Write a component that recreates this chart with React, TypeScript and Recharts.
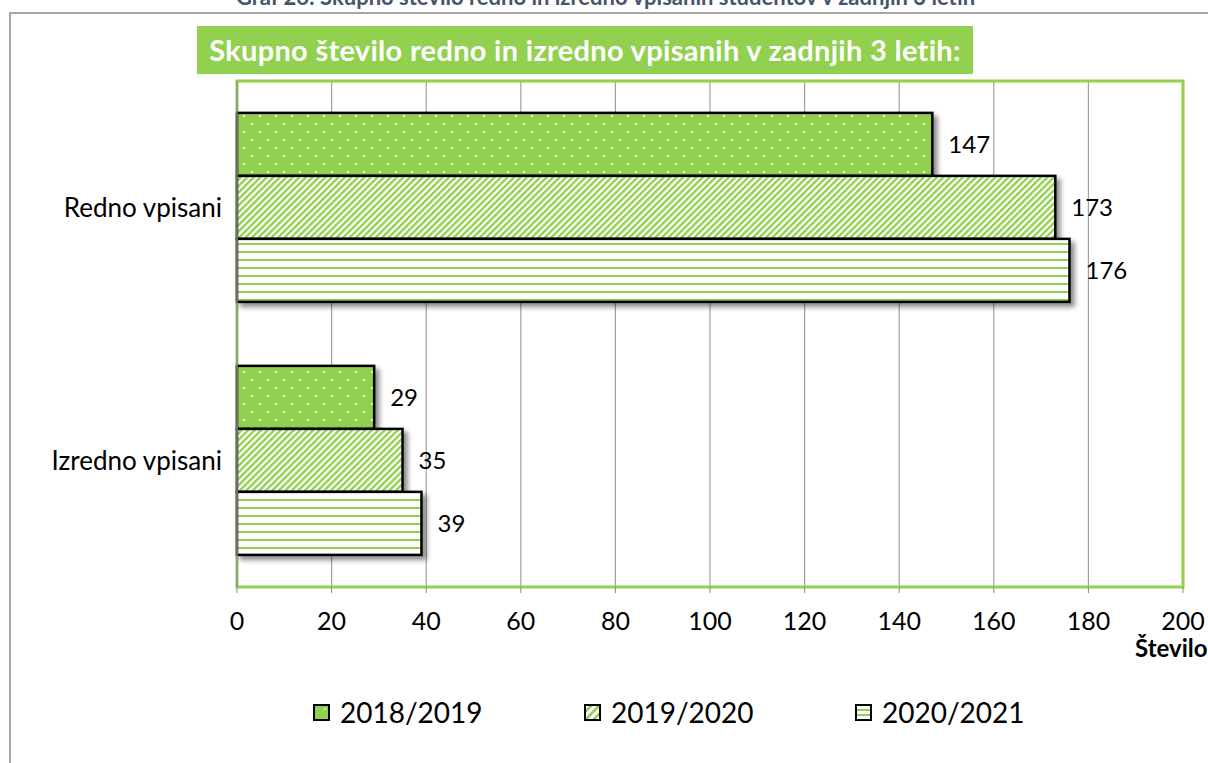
import React from "react";
import {
  Bar,
  BarChart,
  CartesianGrid,
  LabelList,
  ReferenceArea,
  XAxis,
  YAxis,
} from "recharts";

const categories = ["Redno vpisani", "Izredno vpisani"];
const seriesNames = ["2018/2019", "2019/2020", "2020/2021"];
const values2018 = [147, 29];
const values2019 = [173, 35];
const values2020 = [176, 39];
const xTicks = [0, 20, 40, 60, 80, 100, 120, 140, 160, 180, 200];

const pageTitle =
  "Graf 26: Skupno število redno in izredno vpisanih študentov v zadnjih 3 letih";
const chartTitle = "Skupno število redno in izredno vpisanih v zadnjih 3 letih:";
const axisTitle = "Število";

const data = categories.map((name, i) => ({
  name,
  s2018: values2018[i],
  s2019: values2019[i],
  s2020: values2020[i],
}));

const GREEN = "#92D050";
const FONT = "Lato, 'Open Sans', sans-serif";
const seriesKeys = ["s2018", "s2019", "s2020"];
const patternIds = ["pDots", "pDiag", "pHoriz"];

const BarShape = (props: any) => {
  const { x, y, width, height, fill } = props;
  if (!width || width <= 0) return null;
  return (
    <rect
      x={x}
      y={y}
      width={width}
      height={height}
      fill={fill}
      stroke="#000"
      strokeWidth={2.5}
      filter="url(#barShadow)"
    />
  );
};

function Swatch({ pattern }: { pattern: string }) {
  return (
    <svg width={17} height={17} style={{ display: "block" }}>
      <defs>
        <pattern id={"lg" + pattern} patternUnits="userSpaceOnUse" width={17} height={17}>
          {pattern === "pDots" && (
            <>
              <rect width={17} height={17} fill={GREEN} />
              <rect x={11} y={4} width={1.5} height={1.5} fill="#fff" />
            </>
          )}
          {pattern === "pDiag" && (
            <>
              <rect width={17} height={17} fill="#fff" />
              <path d="M-4 21 L21 -4 M-4 13 L13 -4 M4 21 L21 4 M-4 29 L29 -4" stroke={GREEN} strokeWidth={2.6} />
            </>
          )}
          {pattern === "pHoriz" && (
            <>
              <rect width={17} height={17} fill="#fff" />
              <rect x={0} y={5} width={17} height={2} fill={GREEN} />
              <rect x={0} y={10} width={17} height={2} fill={GREEN} />
            </>
          )}
        </pattern>
      </defs>
      <rect x={1} y={1} width={15} height={15} fill={`url(#lg${pattern})`} stroke="#000" strokeWidth={2} />
    </svg>
  );
}

export default function App() {
  return (
    <div
      style={{
        position: "absolute",
        left: 0,
        top: 0,
        width: 1208,
        height: 763,
        overflow: "hidden",
        background: "#fff",
        fontFamily: FONT,
      }}
    >
      <div
        style={{
          position: "absolute",
          left: 158,
          top: -17,
          width: 895,
          textAlign: "center",
          fontWeight: 700,
          fontSize: 22,
          color: "#44546A",
          whiteSpace: "nowrap",
        }}
      >
        {pageTitle}
      </div>
      <div
        style={{
          position: "absolute",
          left: 9,
          top: 12,
          width: 1300,
          height: 800,
          borderLeft: "2px solid #A6A6A6",
          borderTop: "2px solid #A6A6A6",
        }}
      />
      <div style={{ position: "absolute", left: 0, top: 0 }}>
        <BarChart
          width={1208}
          height={763}
          data={data}
          layout="vertical"
          margin={{ top: 81, right: 25, bottom: 146, left: 0 }}
          barCategoryGap="12.6%"
          barGap={0}
        >
          <defs>
            <filter id="barShadow" x="-10%" y="-20%" width="130%" height="160%">
              <feDropShadow dx={4} dy={4} stdDeviation={2.5} floodColor="#000" floodOpacity={0.45} />
            </filter>
            <pattern id="pDots" patternUnits="userSpaceOnUse" width={16} height={16}>
              <rect width={16} height={16} fill={GREEN} />
              <rect x={3} y={3} width={2} height={2} fill="#F0F8E6" />
              <rect x={11} y={11} width={2} height={2} fill="#F0F8E6" />
            </pattern>
            <pattern
              id="pDiag"
              patternUnits="userSpaceOnUse"
              width={4.6}
              height={4.6}
              patternTransform="rotate(45)"
            >
              <rect width={4.6} height={4.6} fill="#fff" />
              <rect x={0} y={0} width={2.4} height={4.6} fill={GREEN} />
            </pattern>
            <pattern id="pHoriz" patternUnits="userSpaceOnUse" width={8} height={8}>
              <rect width={8} height={8} fill="#fff" />
              <rect x={0} y={3} width={8} height={2} fill={GREEN} />
            </pattern>
          </defs>
          <CartesianGrid horizontal={false} stroke="#A0A0A0" strokeWidth={1.2} />
          <ReferenceArea
            x1={0}
            x2={200}
            fill="none"
            stroke={GREEN}
            strokeWidth={3}
            ifOverflow="visible"
          />
          <XAxis
            type="number"
            domain={[0, 200]}
            ticks={xTicks}
            interval={0}
            axisLine={false}
            tickLine={{ stroke: "#888" }}
            tickSize={6}
            tickMargin={19}
            height={30}
            tick={{ fill: "#000", fontSize: 25, fontFamily: FONT }}
            label={{
              content: ({ viewBox }: any) => (
                <text
                  x={viewBox.x + viewBox.width - 48}
                  y={viewBox.y + 70}
                  fontWeight={700}
                  fontSize={24}
                  fontFamily={FONT}
                  fill="#000"
                >
                  {axisTitle}
                </text>
              ),
            }}
          />
          <YAxis
            type="category"
            dataKey="name"
            width={237}
            axisLine={{ stroke: "#909090", strokeWidth: 1.5 }}
            tickLine={false}
            tickSize={0}
            tickMargin={15}
            tick={{ fill: "#000", fontSize: 26, fontFamily: FONT }}
          />
          {seriesKeys.map((key, i) => (
            <Bar
              key={key}
              dataKey={key}
              name={seriesNames[i]}
              fill={`url(#${patternIds[i]})`}
              shape={BarShape}
              isAnimationActive={false}
            >
              <LabelList
                dataKey={key}
                position="right"
                offset={16}
                fill="#000"
                fontSize={24}
                fontFamily={FONT}
              />
            </Bar>
          ))}
        </BarChart>
      </div>
      <div
        style={{
          position: "absolute",
          left: 197,
          top: 26,
          width: 776,
          height: 48,
          background: GREEN,
          color: "#fff",
          fontWeight: 700,
          fontSize: 29,
          letterSpacing: 0.3,
          lineHeight: "48px",
          textAlign: "center",
          whiteSpace: "nowrap",
        }}
      >
        {chartTitle}
      </div>
      <div
        style={{
          position: "absolute",
          left: 313,
          top: 694,
          display: "flex",
        }}
      >
        {seriesNames.map((n, i) => (
          <div
            key={n}
            style={{ width: 271, display: "flex", alignItems: "center", fontSize: 28, color: "#000" }}
          >
            <Swatch pattern={patternIds[i]} />
            <span style={{ marginLeft: 10, lineHeight: "36px" }}>{n}</span>
          </div>
        ))}
      </div>
    </div>
  );
}
